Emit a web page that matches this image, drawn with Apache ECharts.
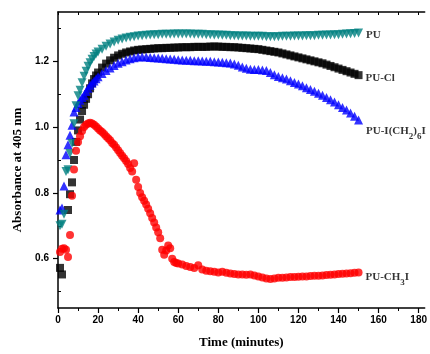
<!DOCTYPE html>
<html><head><meta charset="utf-8">
<script src="https://cdn.jsdelivr.net/npm/echarts@6/dist/echarts.min.js"></script>
<style>html,body{margin:0;padding:0;background:#fff}#c{width:430px;height:354px}</style>
</head><body><div id="c"></div>
<script>
// shared sampling times (minutes) for PU, PU-Cl, PU-I(CH2)6I
const times = [1,2,3,4,5,6,7,8,9,10,11,12,13,14,15,16,17,18,19,20,
  22,24,26,28,30,32,34,36,38,40,
  42,44,46,48,50,52,54,56,58,60,
  62,64,66,68,70,72,74,76,78,80,
  82,84,86,88,90,92,94,96,98,100,
  102,104,106,108,110,112,114,116,118,120,
  122,124,126,128,130,132,134,136,138,140,
  142,144,146,148,150];
const puValues = [0.700,0.705,0.735,0.865,0.870,0.920,0.950,1.010,1.065,1.095,1.112,1.135,1.155,1.170,1.185,1.196,1.206,1.215,1.222,1.228,
  1.237,1.246,1.253,1.259,1.264,1.268,1.271,1.273,1.275,1.277,
  1.278,1.279,1.280,1.281,1.281,1.282,1.282,1.282,1.283,1.283,
  1.283,1.283,1.283,1.282,1.282,1.282,1.281,1.281,1.280,1.280,
  1.279,1.279,1.278,1.278,1.277,1.277,1.277,1.276,1.276,1.276,
  1.276,1.275,1.275,1.275,1.275,1.276,1.276,1.276,1.277,1.277,
  1.277,1.278,1.278,1.278,1.279,1.279,1.280,1.280,1.281,1.281,
  1.282,1.283,1.284,1.285,1.286];
const puClValues = [0.572,0.552,null,null,0.748,0.796,0.832,0.900,0.955,0.990,1.023,1.049,1.068,1.086,1.100,1.118,1.133,1.146,1.157,1.166,
  1.181,1.193,1.203,1.211,1.218,1.223,1.227,1.230,1.233,1.235,
  1.236,1.237,1.238,1.239,1.240,1.240,1.241,1.241,1.242,1.242,
  1.243,1.243,1.243,1.244,1.244,1.244,1.244,1.245,1.245,1.245,
  1.244,1.244,1.243,1.243,1.242,1.241,1.240,1.239,1.238,1.237,
  1.235,1.233,1.231,1.229,1.227,1.224,1.221,1.218,1.215,1.212,
  1.209,1.206,1.203,1.200,1.197,1.194,1.190,1.186,1.182,1.178,
  1.174,1.170,1.166,1.162,1.158];
const puIValues = [0.748,0.754,0.821,0.916,0.946,0.975,1.006,1.046,1.060,1.072,1.082,1.090,1.097,1.108,1.118,1.127,1.134,1.140,1.147,1.153,
  1.163,1.172,1.180,1.187,1.194,1.199,1.204,1.208,1.211,1.213,
  1.214,1.213,1.212,1.211,1.210,1.209,1.208,1.207,1.206,1.205,
  1.204,1.203,1.203,1.202,1.202,1.201,1.200,1.200,1.199,1.198,
  1.197,1.196,1.195,1.192,1.188,1.183,1.179,1.176,1.175,1.175,
  1.174,1.172,1.166,1.159,1.154,1.150,1.146,1.141,1.136,1.131,
  1.126,1.120,1.114,1.109,1.103,1.097,1.090,1.083,1.076,1.068,
  1.060,1.052,1.043,1.033,1.022];
// PU-CH3I sampled every minute up to 60, then every 2 minutes
const redTimes = [1,2,3,4,5,6,7,8,9,10,11,12,13,14,15,16,17,18,19,20,
  21,22,23,24,25,26,27,28,29,30,31,32,33,34,35,36,37,38,39,40,
  41,42,43,44,45,46,47,48,49,50,51,52,53,54,55,56,57,58,59,60,
  62,64,66,68,70,72,74,76,78,80,
  82,84,86,88,90,92,94,96,98,100,
  102,104,106,108,110,112,114,116,118,120,
  122,124,126,128,130,132,134,136,138,140,
  142,144,146,148,150];
const puCH3IValues = [0.620,0.630,0.632,0.627,0.605,0.672,0.791,0.871,0.928,0.955,0.972,0.988,1.000,1.007,1.011,1.013,1.011,1.007,1.002,0.996,
  0.990,0.985,0.979,0.972,0.966,0.960,0.952,0.946,0.938,0.930,0.921,0.913,0.905,0.897,0.888,0.876,0.865,0.890,0.840,0.818,
  0.800,0.787,0.776,0.765,0.752,0.738,0.724,0.710,0.695,0.680,0.662,0.627,0.612,0.625,0.640,0.632,0.600,0.590,0.587,0.585,
  0.582,0.578,0.575,0.572,0.580,0.567,0.563,0.562,0.560,0.558,
  0.560,0.557,0.555,0.553,0.552,0.552,0.551,0.552,0.549,0.546,
  0.543,0.540,0.538,0.540,0.542,0.542,0.543,0.544,0.544,0.545,
  0.546,0.546,0.547,0.548,0.548,0.549,0.550,0.551,0.552,0.553,
  0.554,0.555,0.556,0.557,0.558];
const seriesNames = ['PU','PU-Cl','PU-I(CH2)6I','PU-CH3I'];
const seriesLabels = ['{a|PU}','{a|PU-Cl}','{a|PU-I(CH}{s|2}{a|)}{s|6}{a|I}','{a|PU-CH}{s|3}{a|I}'];
const xMajorTicks = [0,20,40,60,80,100,120,140,160,180];
const xMinorTicks = [10,30,50,70,90,110,130,150,170];
const xAllTicks = [0,10,20,30,40,50,60,70,80,90,100,110,120,130,140,150,160,170,180];
const yMajorTicks = [0.6,0.8,1.0,1.2];
const yMinorTicks = [0.5,0.7,0.9,1.1,1.3];
const xTitle = 'Time (minutes)';
const yTitle = 'Absorbance at 405 nm';

const serif = '"Liberation Serif","Times New Roman",serif';
const sans = '"Liberation Sans",Arial,sans-serif';
const rich = {
  a: {fontFamily: serif, fontWeight: 'bold', fontSize: 11, color: '#000', lineHeight: 14},
  s: {fontFamily: serif, fontWeight: 'bold', fontSize: 9, color: '#000', verticalAlign: 'bottom', lineHeight: 20}
};
function build(ts, vs, labelIdx, dy) {
  const d = [];
  ts.forEach((t, i) => { if (vs[i] != null) d.push([t, vs[i]]); });
  const last = d.pop();
  d.push({value: last, label: {show: true, position: 'right', distance: 3, offset: [0, dy],
    formatter: seriesLabels[labelIdx], rich: rich}});
  return d;
}
const chart = echarts.init(document.getElementById('c'), null, {renderer: 'canvas'});
const axisLineStyle = {color: '#000', width: 1.5};
chart.setOption({
  animation: false,
  backgroundColor: '#fff',
  grid: {left: 58, right: 0, top: 12, bottom: 41},
  xAxis: [
    {type: 'value', position: 'bottom', min: 0, max: 183,
     axisLine: {show: true, onZero: false, lineStyle: axisLineStyle},
     axisTick: {show: true, customValues: xMajorTicks, length: 5, lineStyle: {color: '#000', width: 1.2}},
     axisLabel: {customValues: xMajorTicks, margin: 7, fontFamily: sans, fontWeight: 'bold', fontSize: 10, color: '#000'},
     splitLine: {show: false},
     name: xTitle, nameLocation: 'middle', nameGap: 28,
     nameTextStyle: {fontFamily: serif, fontWeight: 'bold', fontSize: 13, color: '#000'}},
    {type: 'value', position: 'bottom', min: 0, max: 183,
     axisLine: {show: false},
     axisTick: {show: true, customValues: xMinorTicks, length: 3, lineStyle: {color: '#000', width: 1}},
     axisLabel: {show: false}, splitLine: {show: false}},
    {type: 'value', position: 'top', min: 0, max: 183,
     axisLine: {show: true, onZero: false, lineStyle: axisLineStyle},
     axisTick: {show: true, inside: true, customValues: xAllTicks, length: 3, lineStyle: {color: '#000', width: 1}},
     axisLabel: {show: false}, splitLine: {show: false}}
  ],
  yAxis: [
    {type: 'value', min: 0.45, max: 1.35,
     axisLine: {show: true, onZero: false, lineStyle: axisLineStyle},
     axisTick: {show: true, customValues: yMajorTicks, length: 5, lineStyle: {color: '#000', width: 1.2}},
     axisLabel: {customValues: yMajorTicks, margin: 9, fontFamily: sans, fontWeight: 'bold', fontSize: 10, color: '#000',
       formatter: v => v.toFixed(1)},
     splitLine: {show: false},
     name: yTitle, nameLocation: 'middle', nameGap: 33,
     nameTextStyle: {fontFamily: serif, fontWeight: 'bold', fontSize: 13, color: '#000', padding: [0, 20, 0, 0]}},
    {type: 'value', min: 0.45, max: 1.35,
     axisLine: {show: false},
     axisTick: {show: true, customValues: yMinorTicks, length: 3, lineStyle: {color: '#000', width: 1}},
     axisLabel: {show: false}, splitLine: {show: false}}
  ],
  series: [
    {type: 'scatter', name: seriesNames[1], data: build(times, puClValues, 1, 3),
     symbol: 'rect', symbolSize: 8, itemStyle: {color: '#000000'}, z: 2},
    {type: 'scatter', name: seriesNames[2], data: build(times, puIValues, 2, 11),
     symbol: 'triangle', symbolSize: 9, itemStyle: {color: '#0000ff'}, z: 3},
    {type: 'scatter', name: seriesNames[0], data: build(times, puValues, 0, 2),
     symbol: 'triangle', symbolRotate: 180, symbolSize: 9, itemStyle: {color: '#008080'}, z: 4},
    {type: 'scatter', name: seriesNames[3], data: build(redTimes, puCH3IValues, 3, 5),
     symbol: 'circle', symbolSize: 8, itemStyle: {color: '#ff0000'}, z: 5}
  ]
});
</script>
</body></html>
